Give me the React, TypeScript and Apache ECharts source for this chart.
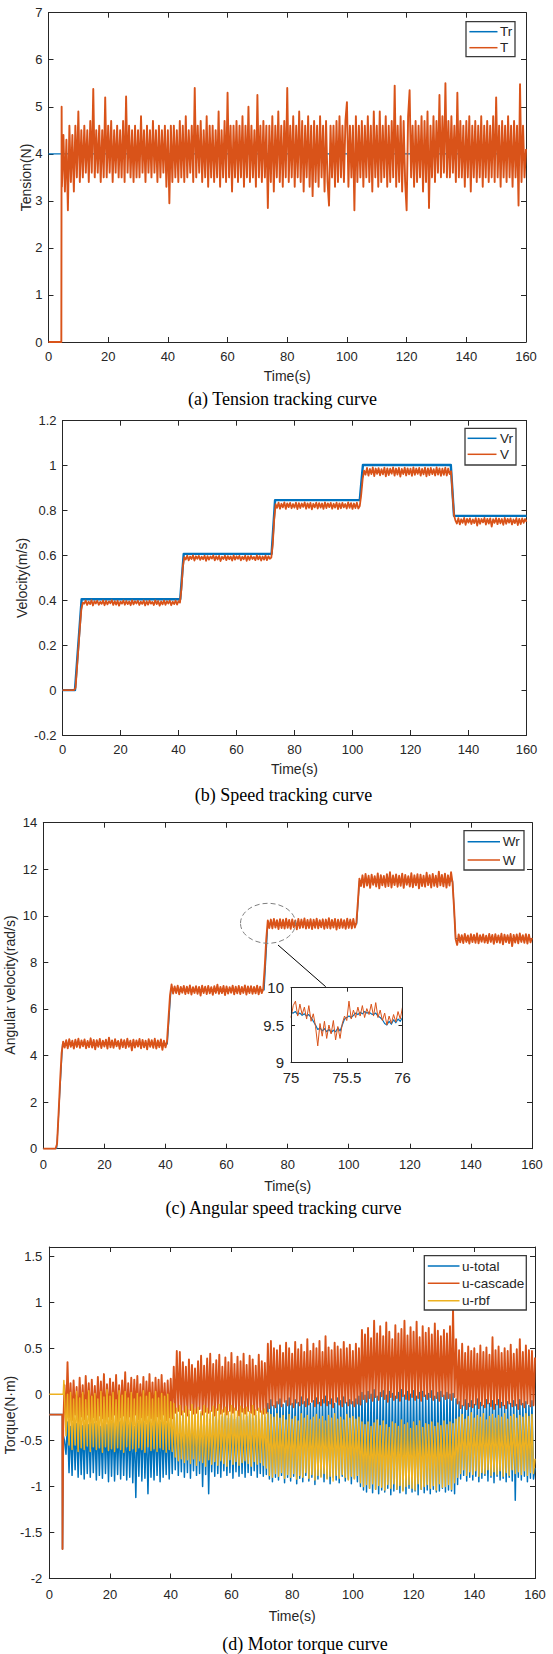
import { useEffect, useRef } from "react";
import * as echarts from "echarts";

// ---------- axis ranges ----------
const TIME_AXIS = { min: 0, max: 160, interval: 20 };
const TENSION_AXIS = { min: 0, max: 7, interval: 1 };
const VELOCITY_AXIS = { min: -0.2, max: 1.2, interval: 0.2 };
const OMEGA_AXIS = { min: 0, max: 14, interval: 2 };
const TORQUE_AXIS = { min: -2, max: 1.6, interval: 0.5 };
const ZOOM_X_AXIS = { min: 75, max: 76, interval: 0.5 };
const ZOOM_Y_AXIS = { min: 9, max: 10, interval: 0.5 };

// ---------- (a) tension ----------
const TENSION_REF = 4;
const TENSION_LEAD_T = [0, 4.3, 4.35, 4.4];
const TENSION_LEAD_V = [0, 0, 2.6, 5.0];
const TENSION_T0 = 4.5;
const TENSION_DT = 0.5;
const TENSION = [
  3.3, 4.4, 3.2, 4.3, 2.8, 4.6, 3.4, 4.4, 3.2, 4.6,
  3.5, 4.9, 3.4, 4.5, 3.5, 4.6, 3.6, 4.5, 3.4, 4.7,
  3.6, 5.38, 3.5, 4.5, 3.6, 4.6, 3.4, 4.5, 3.5, 5.2,
  3.5, 4.6, 3.6, 4.7, 3.4, 4.5, 3.6, 4.6, 3.5, 4.5,
  3.5, 4.7, 3.4, 5.22, 3.6, 4.6, 3.5, 4.5, 3.4, 4.6,
  3.5, 4.5, 3.5, 4.8, 3.6, 4.5, 3.4, 4.6, 3.6, 4.5,
  3.5, 4.7, 3.6, 4.5, 3.4, 4.6, 3.5, 4.5, 3.6, 4.6,
  3.3, 4.5, 2.95, 4.6, 3.4, 4.6, 3.5, 4.5, 3.4, 4.7,
  3.5, 4.6, 3.4, 4.8, 3.5, 4.5, 3.6, 4.6, 3.4, 5.4,
  3.5, 4.6, 3.6, 4.7, 3.4, 4.5, 3.5, 4.8, 3.3, 4.6,
  3.5, 4.6, 3.4, 4.5, 3.5, 4.9, 3.3, 4.5, 3.5, 4.7,
  3.4, 5.3, 3.5, 4.6, 3.2, 4.6, 3.5, 4.7, 3.4, 4.6,
  3.5, 4.8, 3.3, 4.6, 3.5, 5.0, 3.4, 4.6, 3.5, 4.5,
  3.3, 5.25, 3.5, 4.6, 3.4, 4.7, 3.5, 4.6, 2.85, 4.6,
  3.4, 4.8, 3.2, 4.6, 3.5, 4.9, 3.4, 4.6, 3.3, 4.7,
  3.5, 5.4, 3.4, 4.6, 3.5, 4.8, 3.3, 4.6, 3.5, 4.9,
  3.4, 4.7, 3.2, 4.6, 3.5, 4.8, 3.3, 4.6, 3.1, 4.7,
  3.4, 4.6, 3.3, 4.8, 3.5, 4.6, 3.2, 4.7, 3.4, 2.9,
  4.6, 3.5, 4.6, 3.3, 4.7, 3.4, 4.8, 3.5, 4.6, 3.4,
  4.7, 5.1, 3.3, 4.6, 3.5, 4.6, 2.8, 4.8, 3.4, 4.6,
  3.5, 4.7, 3.3, 4.6, 3.5, 4.8, 3.4, 4.6, 3.2, 4.9,
  3.5, 4.6, 3.3, 4.9, 3.4, 4.6, 3.5, 4.8, 3.3, 4.6,
  3.4, 4.7, 3.5, 5.45, 3.3, 4.6, 3.4, 4.8, 3.2, 4.7,
  3.4, 2.8, 4.8, 5.35, 3.5, 4.6, 3.3, 4.7, 3.4, 4.6,
  3.5, 4.8, 3.2, 4.7, 3.4, 4.9, 2.85, 4.6, 3.5, 4.8,
  3.4, 4.7, 3.6, 5.25, 3.5, 4.8, 3.6, 5.5, 3.5, 4.7,
  3.5, 4.8, 3.6, 4.6, 3.4, 5.3, 3.5, 4.7, 3.5, 4.6,
  3.3, 4.7, 3.5, 4.8, 3.2, 4.6, 3.5, 4.7, 3.4, 4.6,
  3.5, 4.8, 3.3, 4.6, 3.5, 4.7, 3.4, 4.6, 3.5, 4.8,
  3.4, 5.2, 3.5, 4.6, 3.3, 4.7, 3.5, 4.6, 3.4, 4.8,
  3.5, 4.6, 3.3, 4.7, 3.5, 4.6, 2.9, 5.48, 3.4, 4.6,
  3.5, 4.1,
];

// ---------- (b) speed ----------
const VREF_T = [0, 4.3, 6.6, 40.6, 41.8, 72.1, 73.3, 102.5, 103.6, 133.9, 135, 160];
const VREF_V = [0, 0, 0.405, 0.405, 0.607, 0.607, 0.846, 0.846, 1.003, 1.003, 0.776, 0.776];
const VELOCITY_T0 = 0;
const VELOCITY_DT = 0.5;
const VELOCITY = [
  0, 0, 0, 0, 0, 0, 0, 0, 0,
  0.01, 0.1, 0.19, 0.28, 0.36, 0.39,
  0.385, 0.399, 0.379, 0.394, 0.383, 0.4, 0.377, 0.396, 0.386, 0.398,
  0.38, 0.393, 0.384, 0.399, 0.378, 0.397, 0.382, 0.395, 0.387, 0.4,
  0.379, 0.396, 0.381, 0.398, 0.376, 0.394, 0.385, 0.399, 0.38, 0.397,
  0.383, 0.395, 0.378, 0.4, 0.382, 0.396, 0.386, 0.398, 0.379, 0.394,
  0.384, 0.399, 0.377, 0.396, 0.381, 0.398, 0.385, 0.393, 0.379, 0.4,
  0.383, 0.397, 0.376, 0.395, 0.382, 0.399, 0.38, 0.396, 0.386, 0.398,
  0.378, 0.394, 0.383, 0.399, 0.381, 0.396, 0.39,
  0.45, 0.55, 0.592,
  0.582, 0.599, 0.578, 0.595, 0.584, 0.6, 0.577, 0.596, 0.585, 0.598,
  0.58, 0.594, 0.583, 0.599, 0.576, 0.597, 0.581, 0.595, 0.586, 0.6,
  0.578, 0.596, 0.582, 0.598, 0.575, 0.594, 0.584, 0.599, 0.579, 0.597,
  0.583, 0.595, 0.577, 0.6, 0.581, 0.596, 0.585, 0.598, 0.578, 0.594,
  0.583, 0.599, 0.576, 0.596, 0.58, 0.598, 0.584, 0.593, 0.579, 0.6,
  0.582, 0.597, 0.577, 0.595, 0.581, 0.599, 0.579, 0.596, 0.585, 0.59,
  0.65, 0.76, 0.828,
  0.812, 0.835, 0.808, 0.83, 0.814, 0.836, 0.807, 0.832, 0.815, 0.834,
  0.81, 0.829, 0.813, 0.835, 0.806, 0.833, 0.811, 0.831, 0.816, 0.836,
  0.808, 0.832, 0.812, 0.834, 0.805, 0.83, 0.814, 0.835, 0.809, 0.833,
  0.813, 0.831, 0.807, 0.836, 0.811, 0.832, 0.815, 0.834, 0.808, 0.83,
  0.813, 0.835, 0.806, 0.832, 0.81, 0.834, 0.814, 0.829, 0.809, 0.836,
  0.812, 0.833, 0.807, 0.831, 0.811, 0.835, 0.809, 0.82,
  0.87, 0.94, 0.978,
  0.96, 0.99, 0.955, 0.985, 0.962, 0.992, 0.953, 0.987, 0.963, 0.989,
  0.957, 0.984, 0.961, 0.991, 0.952, 0.988, 0.958, 0.986, 0.964, 0.992,
  0.955, 0.987, 0.96, 0.99, 0.951, 0.985, 0.962, 0.991, 0.956, 0.988,
  0.961, 0.986, 0.954, 0.992, 0.959, 0.987, 0.963, 0.99, 0.955, 0.985,
  0.961, 0.991, 0.952, 0.988, 0.958, 0.99, 0.962, 0.984, 0.956, 0.992,
  0.96, 0.988, 0.954, 0.986, 0.959, 0.991, 0.956, 0.987, 0.962, 0.975,
  0.87, 0.78, 0.755,
  0.742, 0.766, 0.738, 0.761, 0.745, 0.767, 0.736, 0.763, 0.746, 0.765,
  0.74, 0.76, 0.744, 0.766, 0.733, 0.764, 0.741, 0.762, 0.747, 0.767,
  0.737, 0.763, 0.742, 0.765, 0.728, 0.761, 0.745, 0.766, 0.739, 0.764,
  0.743, 0.762, 0.736, 0.767, 0.741, 0.763, 0.746, 0.765, 0.738, 0.76,
  0.744, 0.766, 0.735, 0.763, 0.74, 0.765, 0.745, 0.762, 0.75,
];

// ---------- (c) angular speed ----------
const WREF_T = [0, 4.4, 6.3, 40.6, 41.8, 72.3, 73.5, 102.6, 103.5, 134.0, 135.0, 160];
const WREF_V = [0, 0, 4.5, 4.5, 6.82, 6.82, 9.65, 9.65, 11.5, 11.5, 9.02, 9.02];
const OMEGA_T0 = 0;
const OMEGA_DT = 0.5;
const OMEGA = [
  0, 0, 0, 0, 0, 0, 0, 0, 0,
  0.2, 1.5, 2.9, 4.1, 4.6,
  4.34, 4.66, 4.31, 4.7, 4.38, 4.64, 4.3, 4.68, 4.37, 4.72,
  4.33, 4.65, 4.4, 4.69, 4.31, 4.63, 4.36, 4.74, 4.34, 4.67,
  4.27, 4.66, 4.38, 4.71, 4.32, 4.64, 4.39, 4.68, 4.3, 4.77,
  4.35, 4.65, 4.33, 4.7, 4.4, 4.63, 4.29, 4.69, 4.36, 4.66,
  4.32, 4.72, 4.38, 4.64, 4.22, 4.68, 4.34, 4.65, 4.39, 4.71,
  4.31, 4.67, 4.35, 4.64, 4.27, 4.7, 4.38, 4.66, 4.33, 4.72,
  4.3, 4.65, 4.36, 4.69, 4.25, 4.64, 4.35, 4.6,
  5.6, 6.6, 7.05,
  6.66, 6.97, 6.68, 7.0, 6.63, 6.95, 6.7, 6.99, 6.64, 6.96,
  6.67, 7.01, 6.62, 6.94, 6.69, 6.98, 6.65, 6.95, 6.58, 7.0,
  6.68, 6.96, 6.64, 6.99, 6.67, 6.94, 6.61, 6.98, 6.69, 7.04,
  6.65, 6.95, 6.68, 6.99, 6.6, 6.97, 6.66, 6.94, 6.7, 7.0,
  6.63, 6.96, 6.67, 6.99, 6.64, 6.95, 6.69, 7.01, 6.62, 6.97,
  6.68, 6.98, 6.65, 6.95, 6.67, 7.0, 6.63, 6.96, 6.68, 6.85,
  7.8, 9.0, 9.8,
  9.48, 9.84, 9.46, 9.87, 9.5, 9.81, 9.43, 9.86, 9.48, 9.83,
  9.45, 9.88, 9.49, 9.82, 9.44, 9.85, 9.51, 9.8, 9.42, 9.87,
  9.47, 9.84, 9.5, 9.89, 9.45, 9.82, 9.48, 9.86, 9.43, 9.83,
  9.49, 9.88, 9.46, 9.81, 9.51, 9.85, 9.44, 9.84, 9.48, 9.9,
  9.45, 9.82, 9.5, 9.87, 9.41, 9.83, 9.47, 9.86, 9.49, 9.81,
  9.44, 9.88, 9.48, 9.84, 9.46, 9.87, 9.5, 9.7,
  10.6, 11.6,
  11.28, 11.74, 11.23, 11.8, 11.3, 11.72, 11.2, 11.77, 11.33, 11.7,
  11.26, 11.82, 11.18, 11.75, 11.31, 11.71, 11.24, 11.79, 11.28, 11.87,
  11.22, 11.73, 11.32, 11.78, 11.25, 11.72, 11.29, 11.81, 11.2, 11.76,
  11.33, 11.7, 11.26, 11.83, 11.23, 11.74, 11.31, 11.79, 11.18, 11.77,
  11.28, 11.72, 11.25, 11.85, 11.32, 11.75, 11.22, 11.8, 11.29, 11.72,
  11.24, 11.9, 11.31, 11.76, 11.27, 11.81, 11.21, 11.74, 11.3, 11.87,
  11.4,
  10.3, 9.0,
  8.75, 9.2, 8.86, 9.17, 8.83, 9.22, 8.88, 9.16, 8.81, 9.21,
  8.87, 9.18, 8.84, 9.24, 8.82, 9.17, 8.89, 9.2, 8.85, 9.15,
  8.83, 9.22, 8.88, 9.18, 8.8, 9.21, 8.86, 9.16, 8.84, 9.23,
  8.78, 9.19, 8.87, 9.17, 8.83, 9.22, 8.7, 9.18, 8.85, 9.2,
  8.82, 9.24, 8.88, 9.17, 8.84, 9.21, 8.81, 9.19, 8.86, 9.05,
];
// magnified window 75 s .. 76 s
const ZOOM_T0 = 75;
const ZOOM_DT = 0.02;
const OMEGA_REF_ZOOM = [
  9.67, 9.66, 9.68, 9.64, 9.66, 9.63, 9.65, 9.62, 9.64, 9.6,
  9.55, 9.5, 9.44, 9.46, 9.42, 9.45, 9.41, 9.44, 9.4, 9.43,
  9.41, 9.46, 9.42, 9.5, 9.58, 9.6, 9.62, 9.6, 9.63, 9.66,
  9.64, 9.67, 9.65, 9.68, 9.66, 9.67, 9.65, 9.64, 9.66, 9.62,
  9.6, 9.57, 9.52, 9.5, 9.55, 9.51, 9.57, 9.53, 9.58, 9.55,
  9.6,
];
const OMEGA_ZOOM = [
  9.6, 9.76, 9.82, 9.62, 9.78, 9.64, 9.74, 9.58, 9.76, 9.55,
  9.65, 9.48, 9.22, 9.52, 9.35, 9.55, 9.32, 9.5, 9.38, 9.56,
  9.3, 9.48, 9.32, 9.52, 9.62, 9.56, 9.82, 9.58, 9.7, 9.6,
  9.74, 9.62, 9.76, 9.6, 9.72, 9.64, 9.78, 9.62, 9.8, 9.6,
  9.7, 9.56, 9.66, 9.5, 9.62, 9.52, 9.64, 9.54, 9.68, 9.58,
  9.74,
];

// ---------- (d) motor torque ----------
const TORQUE_LEAD_T = [0, 4.3, 4.35, 4.6];
const U_TOTAL_LEAD = [-0.22, -0.22, -1.68, -0.45];
const U_CASCADE_LEAD = [-0.22, -0.22, -1.68, -0.35];
const U_RBF_LEAD_T = [0, 4.6, 4.8];
const U_RBF_LEAD = [0, 0, 0.15];
const TORQUE_T0 = 5;
const TORQUE_DT = 0.5;
const U_TOTAL = [
  -0.5, -0.65, -0.3, -0.85, -0.35, -0.88, -0.3, -0.82, -0.32, -0.9,
  -0.3, -0.87, -0.34, -0.92, -0.28, -0.86, -0.33, -0.9, -0.3, -0.85,
  -0.32, -0.93, -0.29, -0.88, -0.35, -0.91, -0.3, -0.86, -0.33, -0.95,
  -0.28, -0.89, -0.31, -0.94, -0.34, -0.87, -0.3, -0.92, -0.32, -0.88,
  -0.29, -0.93, -0.33, -0.9, -0.3, -0.96, -0.35, -1.12, -0.31, -0.89,
  -0.32, -0.94, -0.28, -0.91, -0.33, -1.08, -0.3, -0.9, -0.34, -0.93,
  -0.29, -0.88, -0.32, -0.95, -0.3, -0.9, -0.33, -0.87, -0.31, -0.92,
  -0.3, -0.86, -0.25, -0.82, -0.22, -0.88, -0.26, -0.84, -0.23, -0.9,
  -0.27, -0.85, -0.22, -0.91, -0.25, -0.83, -0.28, -0.88, -0.24, -0.86,
  -0.21, -1.0, -0.26, -0.87, -0.23, -1.08, -0.27, -0.84, -0.22, -0.89,
  -0.25, -0.86, -0.28, -0.9, -0.24, -0.83, -0.22, -0.88, -0.26, -0.85,
  -0.23, -0.91, -0.27, -0.84, -0.25, -0.89, -0.21, -0.86, -0.28, -0.9,
  -0.24, -0.85, -0.22, -0.88, -0.26, -0.83, -0.23, -0.9, -0.27, -0.86,
  -0.22, -0.89, -0.25, -0.87, -0.1, -0.92, -0.06, -0.95, -0.12, -0.9,
  -0.08, -0.93, -0.05, -0.88, -0.11, -0.96, -0.07, -0.9, -0.04, -0.94,
  -0.1, -0.89, -0.06, -0.97, -0.09, -0.91, -0.03, -0.95, -0.08, -0.88,
  -0.05, -0.94, -0.1, -0.9, -0.07, -0.98, -0.04, -0.92, -0.09, -0.89,
  -0.06, -0.95, -0.02, -0.91, -0.08, -0.97, -0.05, -0.9, -0.1, -0.93,
  -0.04, -0.96, -0.07, -0.89, -0.03, -0.94, -0.09, -0.92, -0.06, -0.97,
  -0.08, -0.91, -0.05, -0.95, -0.02, -1.0, 0.02, -1.04, -0.01, -1.06,
  0.03, -1.02, 0.0, -1.07, 0.05, -1.03, -0.02, -1.08, 0.02, -1.04,
  0.04, -1.06, -0.01, -1.02, 0.03, -1.09, 0.01, -1.05, -0.02, -1.03,
  0.02, -1.07, 0.05, -1.04, -0.01, -1.08, 0.03, -1.02, 0.0, -1.06,
  0.04, -1.05, -0.02, -1.09, 0.02, -1.03, 0.03, -1.07, -0.01, -1.04,
  0.01, -1.08, 0.04, -1.03, -0.02, -1.06, 0.02, -1.05, 0.03, -1.02,
  -0.01, -1.06, 0.02, -1.04, 0.0, -1.05, 0.01, -1.08, -0.05, -0.98,
  -0.08, -0.92, -0.12, -0.88, -0.06, -0.94, -0.1, -0.9, -0.07, -0.93,
  -0.11, -0.89, -0.05, -0.95, -0.09, -0.91, -0.12, -0.88, -0.06, -0.94,
  -0.1, -0.9, -0.07, -0.96, -0.11, -0.89, -0.06, -0.93, -0.09, -0.91,
  -0.12, -0.95, -0.08, -0.9, -0.1, -0.94, -0.07, -1.15, -0.11, -0.9,
  -0.06, -0.93, -0.1, -0.89, -0.08, -0.95, -0.12, -0.91, -0.07, -0.92,
  -0.8,
];
const U_CASCADE = [
  0.1, -0.3, 0.35, -0.25, 0.12, -0.28, 0.15, -0.22, 0.08, -0.3,
  0.18, -0.24, 0.1, -0.27, 0.2, -0.22, 0.12, -0.3, 0.16, -0.25,
  0.09, -0.28, 0.19, -0.23, 0.14, -0.26, 0.22, -0.3, 0.11, -0.24,
  0.17, -0.27, 0.13, -0.22, 0.21, -0.29, 0.1, -0.25, 0.15, -0.23,
  0.24, -0.28, 0.12, -0.24, 0.18, -0.3, 0.16, -0.22, 0.2, -0.27,
  0.11, -0.25, 0.19, -0.28, 0.14, -0.23, 0.22, -0.26, 0.13, -0.29,
  0.18, -0.24, 0.16, -0.27, 0.21, -0.22, 0.12, -0.28, 0.15, -0.25,
  0.17, -0.26, 0.3, -0.2, 0.47, -0.18, 0.46, -0.22, 0.35, -0.19,
  0.3, -0.23, 0.38, -0.17, 0.32, -0.21, 0.28, -0.2, 0.36, -0.16,
  0.42, -0.22, 0.31, -0.19, 0.39, -0.2, 0.44, -0.18, 0.33, -0.23,
  0.37, -0.17, 0.43, -0.21, 0.3, -0.19, 0.4, -0.22, 0.35, -0.18,
  0.45, -0.2, 0.33, -0.17, 0.41, -0.23, 0.36, -0.19, 0.44, -0.21,
  0.32, -0.18, 0.42, -0.2, 0.38, -0.22, 0.31, -0.17, 0.43, -0.19,
  0.36, -0.21, 0.34, -0.2, 0.55, -0.15, 0.58, -0.12, 0.5, -0.14,
  0.48, -0.1, 0.53, -0.13, 0.45, -0.08, 0.56, -0.12, 0.5, -0.11,
  0.44, -0.14, 0.57, -0.09, 0.49, -0.12, 0.54, -0.1, 0.46, -0.13,
  0.6, -0.11, 0.47, -0.08, 0.55, -0.13, 0.5, -0.1, 0.58, -0.12,
  0.46, -0.09, 0.63, -0.12, 0.51, -0.1, 0.48, -0.14, 0.56, -0.08,
  0.52, -0.11, 0.49, -0.13, 0.57, -0.09, 0.5, -0.12, 0.54, -0.1,
  0.47, -0.13, 0.55, -0.1, 0.5, -0.11, 0.7, -0.05, 0.65, -0.08,
  0.72, -0.04, 0.61, -0.07, 0.8, -0.03, 0.66, -0.06, 0.74, -0.02,
  0.63, -0.05, 0.78, -0.08, 0.68, -0.03, 0.6, -0.06, 0.75, -0.04,
  0.66, -0.07, 0.71, -0.02, 0.8, -0.05, 0.64, -0.06, 0.73, -0.03,
  0.68, -0.06, 0.79, -0.04, 0.62, -0.07, 0.74, -0.02, 0.67, -0.05,
  0.72, -0.03, 0.65, -0.06, 0.77, -0.04, 0.69, -0.07, 0.63, -0.02,
  0.7, -0.05, 0.66, -0.04, 0.74, -0.06, 0.93, -0.03, 0.6, -0.1,
  0.48, -0.15, 0.55, -0.12, 0.45, -0.16, 0.52, -0.13, 0.47, -0.14,
  0.5, -0.11, 0.44, -0.15, 0.53, -0.12, 0.46, -0.14, 0.51, -0.1,
  0.43, -0.13, 0.62, -0.16, 0.48, -0.11, 0.52, -0.14, 0.45, -0.12,
  0.5, -0.15, 0.47, -0.1, 0.54, -0.13, 0.44, -0.12, 0.49, -0.16,
  0.6, -0.11, 0.46, -0.14, 0.53, -0.1, 0.48, -0.13, 0.47, -0.12,
  0.4,
];
const U_RBF = [
  0.15, -0.45, 0.0, -0.55, 0.02, -0.6, -0.05, -0.55, 0.03, -0.62,
  -0.04, -0.58, 0.02, -0.6, -0.06, -0.56, 0.04, -0.62, -0.02, -0.57,
  0.01, -0.6, -0.05, -0.58, 0.03, -0.63, -0.03, -0.57, 0.05, -0.61,
  -0.02, -0.59, 0.02, -0.62, -0.06, -0.58, 0.04, -0.6, -0.01, -0.63,
  0.03, -0.57, -0.04, -0.61, 0.02, -0.59, -0.05, -0.62, 0.01, -0.58,
  -0.03, -0.6, 0.04, -0.63, -0.02, -0.57, 0.02, -0.61, -0.05, -0.59,
  0.03, -0.62, -0.04, -0.58, 0.01, -0.6, -0.02, -0.63, 0.0, -0.6,
  -0.08, -0.62, -0.1, -0.68, -0.15, -0.72, -0.12, -0.7, -0.18, -0.74,
  -0.13, -0.71, -0.17, -0.75, -0.11, -0.7, -0.16, -0.77, -0.14, -0.72,
  -0.19, -0.74, -0.12, -0.78, -0.15, -0.71, -0.18, -0.76, -0.13, -0.73,
  -0.16, -0.77, -0.11, -0.72, -0.17, -0.75, -0.14, -0.78, -0.19, -0.71,
  -0.12, -0.76, -0.15, -0.73, -0.18, -0.77, -0.13, -0.74, -0.16, -0.72,
  -0.14, -0.75, -0.19, -0.78, -0.12, -0.73, -0.17, -0.76, -0.15, -0.74,
  -0.18, -0.77, -0.16, -0.8, -0.2, -0.88, -0.22, -0.9, -0.25, -0.86,
  -0.21, -0.89, -0.26, -0.85, -0.23, -0.91, -0.28, -0.87, -0.22, -0.9,
  -0.27, -0.86, -0.24, -0.92, -0.29, -0.88, -0.21, -0.9, -0.26, -0.85,
  -0.23, -0.91, -0.28, -0.87, -0.25, -0.93, -0.22, -0.88, -0.27, -0.9,
  -0.24, -0.86, -0.29, -0.92, -0.23, -0.89, -0.26, -0.94, -0.21, -0.88,
  -0.27, -0.91, -0.25, -0.87, -0.28, -0.9, -0.22, -0.93, -0.26, -0.89,
  -0.24, -0.92, -0.27, -0.88, -0.25, -0.96, -0.3, -1.0, -0.33, -0.98,
  -0.3, -1.02, -0.35, -0.97, -0.31, -1.03, -0.28, -0.99, -0.34, -1.01,
  -0.29, -1.04, -0.33, -0.98, -0.36, -1.02, -0.3, -0.97, -0.32, -1.03,
  -0.35, -0.99, -0.28, -1.05, -0.33, -1.0, -0.31, -0.98, -0.37, -1.02,
  -0.3, -1.04, -0.34, -0.97, -0.29, -1.03, -0.36, -1.0, -0.32, -0.98,
  -0.33, -1.02, -0.3, -0.99, -0.35, -1.04, -0.31, -0.97, -0.34, -1.01,
  -0.29, -1.0, -0.33, -0.98, -0.3, -1.03, -0.32, -0.96, -0.27, -0.9,
  -0.25, -0.86, -0.22, -0.82, -0.27, -0.88, -0.24, -0.84, -0.2, -0.87,
  -0.26, -0.83, -0.23, -0.89, -0.25, -0.85, -0.21, -0.86, -0.28, -0.82,
  -0.24, -0.88, -0.22, -0.84, -0.26, -0.87, -0.23, -0.83, -0.25, -0.89,
  -0.21, -0.85, -0.27, -0.88, -0.24, -0.82, -0.22, -0.86, -0.26, -0.84,
  -0.23, -0.87, -0.25, -0.83, -0.21, -0.88, -0.24, -0.85, -0.22, -0.86,
  -0.7,
];

// ---------- styling ----------
const SANS = '"Liberation Sans", Arial, Helvetica, sans-serif';
const SERIF = '"Liberation Serif", "Times New Roman", serif';
const INK = "#262626";
const BLUE = "#0072BD";
const ORANGE = "#D95319";
const YELLOW = "#EDB120";

const pairs = (ts: number[], vs: number[]) => ts.map((t, i) => [t, vs[i]]);
const sampled = (t0: number, dt: number, vs: number[]) =>
  vs.map((v, i) => [Math.round((t0 + i * dt) * 1000) / 1000, v]);

type Range = { min: number; max: number; interval: number };

function axisPair(
  kind: "x" | "y",
  gridIndex: number,
  range: Range,
  opts: {
    name?: string;
    nameGap?: number;
    labelMargin?: number;
    fontSize?: number;
    hideMax?: boolean;
    z?: number;
    tickLen?: number;
  }
) {
  const common = {
    type: "value",
    gridIndex,
    min: range.min,
    max: range.max,
    interval: range.interval,
    splitLine: { show: false },
    axisLine: { show: true, onZero: false, lineStyle: { color: INK, width: 1 } },
    axisTick: { show: true, inside: true, length: opts.tickLen ?? 5, lineStyle: { color: INK, width: 1 } },
    z: opts.z ?? 0,
  };
  const main = {
    ...common,
    position: kind === "x" ? "bottom" : "left",
    name: opts.name,
    nameLocation: "middle",
    nameGap: opts.nameGap ?? 20,
    nameTextStyle: { color: INK, fontSize: 14, fontFamily: SANS },
    axisLabel: {
      color: INK,
      fontSize: opts.fontSize ?? 13,
      fontFamily: SANS,
      margin: opts.labelMargin ?? 8,
      showMaxLabel: !opts.hideMax,
    },
  };
  const mirror = {
    ...common,
    position: kind === "x" ? "top" : "right",
    axisLabel: { show: false },
  };
  return [main, mirror];
}

function legend(
  box: { x: number; y: number; w: number; h: number },
  lineX: [number, number],
  textX: number,
  items: { name: string; color: string; y: number }[]
) {
  const out: any[] = [
    {
      type: "rect",
      z: 40,
      shape: { x: box.x, y: box.y, width: box.w, height: box.h },
      style: { fill: "#fff", stroke: "#3a3a3a", lineWidth: 1.3 },
    },
  ];
  items.forEach((it) => {
    out.push({
      type: "line",
      z: 41,
      shape: { x1: lineX[0], y1: it.y, x2: lineX[1], y2: it.y },
      style: { stroke: it.color, lineWidth: 1.5 },
    });
    out.push({
      type: "text",
      z: 41,
      x: textX,
      y: it.y,
      style: { text: it.name, fill: INK, fontSize: 13.5, fontFamily: SANS, align: "left", verticalAlign: "middle" },
    });
  });
  return out;
}

function caption(text: string, x: number, y: number) {
  return {
    type: "text",
    z: 40,
    x,
    y,
    style: { text, fill: "#000", fontSize: 18, fontFamily: SERIF, align: "center", verticalAlign: "middle" },
  };
}

// vertical axis title, reading bottom to top
function yTitle(text: string, x: number, y: number) {
  return {
    type: "text",
    z: 40,
    x,
    y,
    rotation: Math.PI / 2,
    style: { text, fill: INK, fontSize: 14, fontFamily: SANS, align: "center", verticalAlign: "middle" },
  };
}

function line(name: string, color: string, xi: number, data: number[][], width = 1, z = 2) {
  return {
    type: "line",
    name,
    xAxisIndex: xi,
    yAxisIndex: xi,
    data,
    symbol: "none",
    silent: true,
    z,
    lineStyle: { color, width, join: "round" },
    itemStyle: { color },
  };
}

function buildOption() {
  const grids = [
    { left: 48.5, top: 12.7, width: 477.5, height: 329.3 },
    { left: 62.5, top: 420.7, width: 464, height: 314.3 },
    { left: 43.3, top: 822.7, width: 488.7, height: 326 },
    { left: 49.3, top: 1247, width: 485.7, height: 331.5 },
    { left: 291, top: 987.7, width: 111.5, height: 74.6, z: 10, show: true, backgroundColor: "#fff", borderWidth: 0 },
  ];

  const xAxis = [
    ...axisPair("x", 0, TIME_AXIS, { name: "Time(s)", nameGap: 27, labelMargin: 8 }),
    ...axisPair("x", 1, TIME_AXIS, { name: "Time(s)", nameGap: 27, labelMargin: 8 }),
    ...axisPair("x", 2, TIME_AXIS, { name: "Time(s)", nameGap: 30, labelMargin: 9 }),
    ...axisPair("x", 3, TIME_AXIS, { name: "Time(s)", nameGap: 30, labelMargin: 9 }),
    ...axisPair("x", 4, ZOOM_X_AXIS, { fontSize: 15, labelMargin: 8, z: 12, tickLen: 4 }),
  ];
  const yAxis = [
    ...axisPair("y", 0, TENSION_AXIS, { labelMargin: 6 }),
    ...axisPair("y", 1, VELOCITY_AXIS, { labelMargin: 6 }),
    ...axisPair("y", 2, OMEGA_AXIS, { labelMargin: 6 }),
    ...axisPair("y", 3, TORQUE_AXIS, { labelMargin: 7, hideMax: true }),
    ...axisPair("y", 4, ZOOM_Y_AXIS, { fontSize: 15, labelMargin: 7, z: 12, tickLen: 4 }),
  ];

  const series = [
    // (a)
    line("Tr", BLUE, 0, [[TIME_AXIS.min, TENSION_REF], [TIME_AXIS.max, TENSION_REF]], 1.2),
    line("T", ORANGE, 0, [...pairs(TENSION_LEAD_T, TENSION_LEAD_V), ...sampled(TENSION_T0, TENSION_DT, TENSION)], 1.9),
    // (b)
    line("Vr", BLUE, 2, pairs(VREF_T, VREF_V), 2.4),
    line("V", ORANGE, 2, sampled(VELOCITY_T0, VELOCITY_DT, VELOCITY), 1.8),
    // (c)
    line("Wr", BLUE, 4, pairs(WREF_T, WREF_V), 1.2),
    line("W", ORANGE, 4, sampled(OMEGA_T0, OMEGA_DT, OMEGA), 1.9),
    // (c) magnified window
    line("Wr-zoom", BLUE, 8, sampled(ZOOM_T0, ZOOM_DT, OMEGA_REF_ZOOM), 1.2, 11),
    line("W-zoom", ORANGE, 8, sampled(ZOOM_T0, ZOOM_DT, OMEGA_ZOOM), 1, 11),
    // (d)
    line("u-total", BLUE, 6, [...pairs(TORQUE_LEAD_T, U_TOTAL_LEAD), ...sampled(TORQUE_T0, TORQUE_DT, U_TOTAL)], 1.5),
    line("u-cascade", ORANGE, 6, [...pairs(TORQUE_LEAD_T, U_CASCADE_LEAD), ...sampled(TORQUE_T0, TORQUE_DT, U_CASCADE)], 1.9),
    line("u-rbf", YELLOW, 6, [...pairs(U_RBF_LEAD_T, U_RBF_LEAD), ...sampled(TORQUE_T0, TORQUE_DT, U_RBF)], 1.5),
  ];

  const graphic = [
    ...legend({ x: 466, y: 21.7, w: 49, h: 35 }, [469.4, 497.5], 500, [
      { name: "Tr", color: BLUE, y: 31.7 },
      { name: "T", color: ORANGE, y: 47.7 },
    ]),
    ...legend({ x: 465, y: 428.3, w: 51, h: 36.7 }, [467.6, 496.5], 500, [
      { name: "Vr", color: BLUE, y: 438.3 },
      { name: "V", color: ORANGE, y: 454.3 },
    ]),
    ...legend({ x: 464, y: 830.7, w: 60, h: 39.3 }, [467.6, 500], 502.8, [
      { name: "Wr", color: BLUE, y: 841.7 },
      { name: "W", color: ORANGE, y: 860 },
    ]),
    ...legend({ x: 424.3, y: 1255.7, w: 102, h: 54.3 }, [427.8, 459.5], 462, [
      { name: "u-total", color: BLUE, y: 1266 },
      { name: "u-cascade", color: ORANGE, y: 1283.3 },
      { name: "u-rbf", color: YELLOW, y: 1300.7 },
    ]),
    // highlighted region and connector to the magnified window
    {
      type: "ellipse",
      z: 30,
      shape: { cx: 268, cy: 923.3, rx: 27.5, ry: 20 },
      style: { fill: "none", stroke: "#7f7f7f", lineWidth: 1, lineDash: [5, 3] },
    },
    {
      type: "line",
      z: 30,
      shape: { x1: 278, y1: 945, x2: 325.7, y2: 986.7 },
      style: { stroke: "#000", lineWidth: 1 },
    },
    yTitle("Tension(N)", 25.5, 177.5),
    yTitle("Velocity(m/s)", 22.4, 578),
    yTitle("Angular velocity(rad/s)", 9.5, 985),
    yTitle("Torque(N\u00B7m)", 9.5, 1415),
    caption("(a) Tension tracking curve", 282.5, 399),
    caption("(b) Speed tracking curve", 283.5, 795),
    caption("(c) Angular speed tracking curve", 283.5, 1208),
    caption("(d) Motor torque curve", 305, 1644),
  ];

  return {
    animation: false,
    backgroundColor: "#fff",
    grid: grids,
    xAxis,
    yAxis,
    series,
    graphic,
  };
}

export default function App() {
  const ref = useRef<HTMLDivElement>(null);
  useEffect(() => {
    document.body.style.margin = "0";
    if (!ref.current) return;
    const chart = echarts.init(ref.current, undefined, { renderer: "svg" });
    chart.setOption(buildOption() as any);
    return () => chart.dispose();
  }, []);
  return <div ref={ref} style={{ width: 553, height: 1654, background: "#fff" }} />;
}
